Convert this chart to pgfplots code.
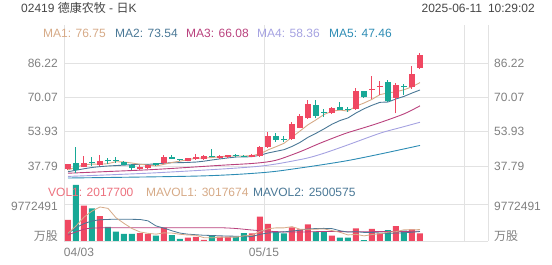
\documentclass[border=0pt]{standalone}
\usepackage{pgfplots}
\pgfplotsset{compat=1.18}
\usepackage{pgfplotstable}
\usepackage{fontspec}
\setmainfont{Liberation Sans}
\newfontfamily\cjk{Noto Sans CJK SC}
\definecolor{cred}{RGB}{240,72,98}
\definecolor{cgrn}{RGB}{23,168,150}
\definecolor{ma1}{RGB}{214,170,135}
\definecolor{ma2}{RGB}{74,120,150}
\definecolor{ma3}{RGB}{185,65,125}
\definecolor{ma4}{RGB}{165,162,225}
\definecolor{ma5}{RGB}{45,140,180}
\definecolor{gridc}{RGB}{226,226,226}
\definecolor{tickc}{RGB}{128,128,128}
\definecolor{hdr}{RGB}{70,70,70}
\definecolor{vol1}{RGB}{236,112,125}

% up (red) candles: x o h l c v(million shares)
\pgfplotstableread{
x o h l c v
0.5 36.24 38.9 35.9 38.5 5.55
2.5 37.46 42.49 37.2 39.06 9.32
4.5 38.4 42.82 38.0 40.28 6.60
9.5 36.24 38.4 36.0 37.46 2.11
10.5 36.85 38.4 36.6 38.12 1.85
12.5 39.06 42.96 38.9 42.16 3.52
15.5 40.28 41.7 40.1 41.41 0.88
16.5 40.94 43.4 40.8 42.16 1.06
17.5 40.94 42.8 40.7 42.49 0.30
19.5 41.55 42.9 41.3 42.49 1.14
20.5 41.88 43.1 41.6 42.82 1.14
23.5 42.16 43.5 41.9 43.10 2.03
24.5 42.49 47.3 42.2 46.86 6.42
25.5 46.6 53.92 46.3 52.04 4.49
28.5 50.48 58.62 50.2 57.40 3.62
29.5 55.80 62.10 55.5 61.44 3.09
30.5 60.22 68.82 59.9 66.80 4.41
33.5 62.57 65.5 62.3 65.20 1.40
36.5 64.59 74.61 64.3 73.05 3.35
38.5 73.45 80.2 69.5 73.85 3.17
39.5 74.85 77.8 71.17 75.3 2.03
41.5 69.8 76.7 62.57 75.9 3.96
43.5 75.08 84.95 74.0 80.91 3.09
44.5 84.01 90.78 83.40 89.98 2.02
}\up
% down (green) candles
\pgfplotstableread{
x o h l c v
1.5 39.34 46.58 34.64 35.91 14.79
3.5 39.5 42.16 37.79 39.2 8.63
5.5 40.45 41.41 38.73 40.1 3.70
6.5 40.75 42.16 39.34 40.4 2.46
7.5 39.67 40.0 38.2 38.4 1.85
8.5 38.4 38.6 35.91 36.71 1.85
11.5 39.0 39.2 37.9 38.4 1.40
13.5 41.88 42.96 41.0 41.22 1.58
14.5 40.85 41.2 40.0 40.5 0.53
18.5 42.65 45.64 41.9 42.3 1.40
21.5 43.10 43.4 42.2 42.49 1.14
22.5 42.65 43.0 41.9 42.3 2.05
26.5 52.04 53.2 49.22 50.02 2.38
27.5 50.65 52.0 48.9 50.3 2.03
31.5 66.47 68.82 60.22 61.44 2.46
32.5 63.25 64.59 61.0 62.9 2.38
34.5 65.67 68.02 63.9 64.12 0.87
35.5 64.8 65.67 63.32 64.4 0.87
37.5 72.9 73.2 70.0 70.23 0.25
40.5 77.3 78.2 67.7 68.2 2.90
42.5 75.3 76.2 71.2 74.9 2.72
}\dn

\begin{document}
\begin{tikzpicture}
\useasboundingbox (0pt,0pt) rectangle (552pt,265pt);
\pgfplotsset{base/.style={scale only axis, width=424pt, xmin=0, xmax=53,
  axis line style={draw=none}, major tick length=0pt, xtick={0,25,50,53},
  grid style={gridc, line width=0.8pt},
  tick label style={font=\fontsize{12}{14}\selectfont, text=tickc}},
  wick/.style={draw=none, mark=none, error bars/.cd, y dir=plus, y explicit, error mark=none, error bar style={line width=1pt, draw=#1}},
  body/.style={draw=none, mark=none, error bars/.cd, y dir=plus, y explicit, error mark=none, error bar style={line width=6pt, draw=#1}}}

% price panel
\begin{axis}[base, at={(64pt,83pt)}, anchor=south west, height=157pt,
  ymin=30.27, ymax=104.09, xmajorgrids, ymajorgrids,
  ytick={37.79,53.93,70.07,86.22}, yticklabels={37.79,53.93,70.07,86.22},
  xticklabels={\relax,\relax,\relax,\relax},
  yticklabel style={anchor=east, inner sep=0pt, xshift=-6pt}]
\addplot[ma5, line width=0.9pt, smooth] coordinates {(0.5,32.15)(17,33.1)(24.9,34.7)(29.5,36.85)(35.1,40.1)(39.5,43.4)(44.5,47.46)};
\addplot[ma4, line width=0.9pt, smooth] coordinates {(0.5,32.9)(11.5,34.6)(23.9,37.5)(29.5,40.8)(32,43.2)(35.1,47.2)(39.5,53.2)(42,55.8)(44.5,58.36)};
\addplot[ma3, line width=0.9pt, smooth] coordinates {(0.5,34.4)(5.5,35.2)(11.5,36.2)(19.5,38.1)(23.9,39.1)(26.5,40.5)(29.5,44.5)(32,48.5)(35.1,53.0)(37.5,55.8)(39.5,58.2)(42.5,62.3)(44.5,66.08)};
\addplot[ma2, line width=0.9pt] coordinates {(0.5,35.1)(1.5,35.8)(2.5,36.5)(3.5,37.1)(4.5,37.5)(5.5,37.8)(6.5,38.0)(7.5,38.2)(8.5,38.4)(9.5,38.60)(10.5,38.56)(11.5,38.81)(12.5,39.12)(13.5,39.33)(14.5,39.35)(15.5,39.48)(16.5,39.65)(17.5,40.06)(18.5,40.62)(19.5,41.13)(20.5,41.60)(21.5,42.00)(22.5,42.02)(23.5,42.21)(24.5,42.84)(25.5,43.91)(26.5,44.69)(27.5,45.47)(28.5,46.98)(29.5,48.88)(30.5,51.28)(31.5,53.17)(32.5,55.23)(33.5,57.44)(34.5,59.17)(35.5,60.40)(36.5,62.71)(37.5,64.70)(38.5,66.34)(39.5,67.73)(40.5,67.87)(41.5,69.32)(42.5,70.52)(43.5,72.09)(44.5,73.54)};
\addplot[ma1, line width=0.9pt] coordinates {(0.5,35.9)(1.5,37.3)(2.5,38.3)(3.5,38.7)(4.5,38.59)(5.5,38.91)(6.5,39.81)(7.5,39.68)(8.5,39.18)(9.5,38.61)(10.5,38.22)(11.5,37.82)(12.5,38.57)(13.5,39.47)(14.5,40.08)(15.5,40.74)(16.5,41.49)(17.5,41.56)(18.5,41.77)(19.5,42.17)(20.5,42.45)(21.5,42.52)(22.5,42.48)(23.5,42.64)(24.5,43.51)(25.5,45.36)(26.5,46.86)(27.5,48.46)(28.5,51.32)(29.5,54.24)(30.5,57.19)(31.5,59.48)(32.5,62.00)(33.5,63.56)(34.5,64.09)(35.5,63.61)(36.5,65.93)(37.5,67.40)(38.5,69.13)(39.5,71.37)(40.5,72.13)(41.5,72.70)(42.5,73.63)(43.5,75.04)(44.5,77.0)};
% candles
\addplot[wick=cred] table[x=x, y=l, y error plus expr=\thisrow{h}-\thisrow{l}] {\up};
\addplot[body=cred] table[x=x, y=o, y error plus expr=\thisrow{c}-\thisrow{o}] {\up};
\addplot[wick=cgrn] table[x=x, y=l, y error plus expr=\thisrow{h}-\thisrow{l}] {\dn};
\addplot[body=cgrn] table[x=x, y=c, y error plus expr=\thisrow{o}-\thisrow{c}] {\dn};
\end{axis}
% right labels of price panel
\begin{axis}[base, at={(64pt,83pt)}, anchor=south west, height=157pt,
  ymin=30.27, ymax=104.09, xtick=\empty,
  ytick={37.79,53.93,70.07,86.22}, yticklabels={37.79,53.93,70.07,86.22},
  yticklabel pos=right,
  yticklabel style={anchor=west, inner sep=0pt, xshift=6pt}]
\end{axis}

% volume panel
\begin{axis}[base, at={(64pt,24pt)}, anchor=south west, height=59pt,
  ymin=0, ymax=15.58, xmajorgrids, ymajorgrids,
  ytick={0,9.772491},
  yticklabels={\raisebox{5pt}[\height][\depth]{\cjk 万股},\raisebox{-2pt}[\height][\depth]{9772491}},
  xticklabels={\makebox[0pt][l]{04/03},05/15,\relax,\relax},
  xticklabel style={anchor=base, inner sep=0pt, yshift=-15.3pt},
  yticklabel style={anchor=east, inner sep=0pt, xshift=-6pt}]
\addplot[ybar, bar width=6pt, bar shift=0pt, fill=cred, draw=none] table[x=x, y=v] {\up};
\addplot[ybar, bar width=6pt, bar shift=0pt, fill=cgrn, draw=none] table[x=x, y=v] {\dn};
\addplot[ma3, line width=0.8pt, smooth] coordinates {(0.5,1.6)(1.5,2.4)(2.5,3.1)(3.5,3.4)(5.5,3.5)(10.5,3.5)(15.5,3.5)(19.5,3.5)(21.5,3.3)(23.5,2.9)(25.5,2.6)(28.5,2.35)(32.5,2.5)(36.5,2.45)(40.5,2.5)(44.5,2.57)};
\addplot[ma2, line width=0.8pt] coordinates {(0.5,2.0)(1.5,3.5)(2.5,4.6)(3.5,5.3)(4.5,5.6)(5.5,5.7)(6.5,5.75)(7.5,5.75)(8.5,5.72)(9.5,5.69)(10.5,5.32)(11.5,3.98)(12.5,3.40)(13.5,2.69)(14.5,2.09)(15.5,1.80)(16.5,1.66)(17.5,1.51)(18.5,1.46)(19.5,1.37)(20.5,1.30)(21.5,1.27)(22.5,1.12)(23.5,1.17)(24.5,1.76)(25.5,2.12)(26.5,2.25)(27.5,2.42)(28.5,2.64)(29.5,2.84)(30.5,3.17)(31.5,3.30)(32.5,3.33)(33.5,3.27)(34.5,2.71)(35.5,2.35)(36.5,2.45)(37.5,2.27)(38.5,2.23)(39.5,2.12)(40.5,1.97)(41.5,2.12)(42.5,2.15)(43.5,2.32)(44.5,2.50)};
\addplot[ma1, line width=0.8pt] coordinates {(0.5,2.03)(1.5,3.96)(2.5,6.3)(3.5,7.9)(4.5,8.98)(5.5,8.61)(6.5,6.14)(7.5,4.65)(8.5,3.29)(9.5,2.39)(10.5,2.02)(11.5,1.81)(12.5,2.15)(13.5,2.09)(14.5,1.78)(15.5,1.58)(16.5,1.51)(17.5,0.87)(18.5,0.83)(19.5,0.96)(20.5,1.01)(21.5,1.02)(22.5,1.37)(23.5,1.50)(24.5,2.56)(25.5,3.23)(26.5,3.47)(27.5,3.47)(28.5,3.79)(29.5,3.12)(30.5,3.11)(31.5,3.12)(32.5,3.19)(33.5,2.75)(34.5,2.30)(35.5,1.60)(36.5,1.77)(37.5,1.35)(38.5,1.70)(39.5,1.93)(40.5,2.34)(41.5,2.46)(42.5,2.96)(43.5,2.94)(44.5,3.02)};
\end{axis}
% right labels of volume panel
\begin{axis}[base, at={(64pt,24pt)}, anchor=south west, height=59pt,
  ymin=0, ymax=15.58, xtick=\empty,
  ytick={0,9.772491},
  yticklabels={\raisebox{5pt}[\height][\depth]{\cjk 万股},\raisebox{-2pt}[\height][\depth]{9772491}},
  yticklabel pos=right,
  yticklabel style={anchor=west, inner sep=0pt, xshift=6pt}]
\end{axis}

% texts
\begin{scope}[every node/.style={inner sep=0pt, font=\fontsize{12}{14}\selectfont}]
\node[anchor=base west, text=hdr] at (21pt,252.3pt) {02419 {\cjk 德康农牧} - {\cjk 日}K};
\node[anchor=base east, text=hdr] at (535pt,252.3pt) {2025-06-11\hspace{6pt}10:29:02};
\node[anchor=base west, text=ma1] at (43pt,227.3pt) {MA1: 76.75};
\node[anchor=base west, text=ma2] at (115pt,227.3pt) {MA2: 73.54};
\node[anchor=base west, text=ma3] at (186pt,227.3pt) {MA3: 66.08};
\node[anchor=base west, text=ma4] at (257pt,227.3pt) {MA4: 58.36};
\node[anchor=base west, text=ma5] at (329pt,227.3pt) {MA5: 47.46};
\node[anchor=base west, text=vol1] at (48pt,68.3pt) {VOL1: 2017700};
\node[anchor=base west, text=ma1] at (146pt,68.3pt) {MAVOL1: 3017674};
\node[anchor=base west, text=ma2] at (253pt,68.3pt) {MAVOL2: 2500575};
\end{scope}
\end{tikzpicture}
\end{document}
